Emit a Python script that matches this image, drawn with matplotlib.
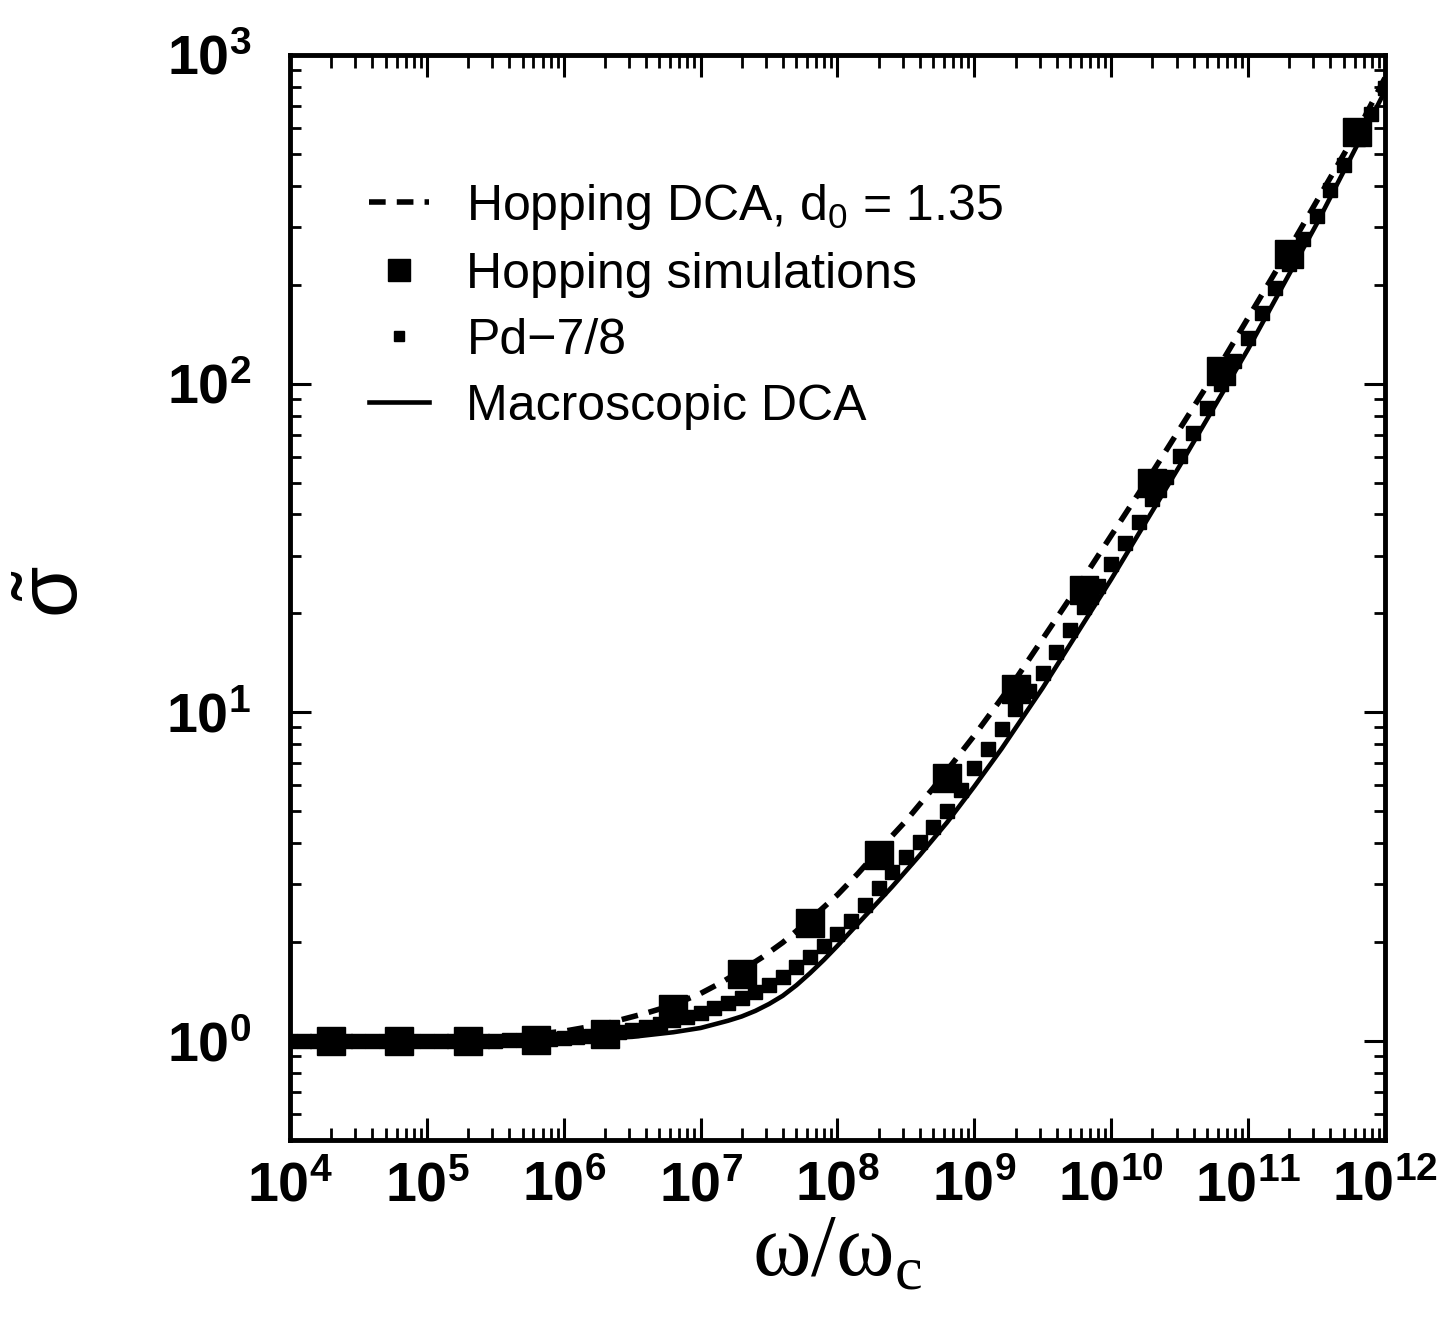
import numpy as np
import matplotlib
matplotlib.use('Agg')
import matplotlib.pyplot as plt
from matplotlib.lines import Line2D
from matplotlib.legend_handler import HandlerLine2D
from matplotlib.ticker import LogLocator, NullFormatter, FuncFormatter

plt.rcParams['font.family'] = ['Liberation Sans', 'DejaVu Sans']
plt.rcParams['mathtext.fontset'] = 'custom'
plt.rcParams['mathtext.rm'] = 'Liberation Sans'
plt.rcParams['mathtext.it'] = 'Liberation Sans:italic'
plt.rcParams['mathtext.bf'] = 'Liberation Sans:bold'

# Hopping simulations (big squares)
sim_w = [2e4, 6.3e4, 2e5, 6.3e5, 2e6, 6.3e6, 2e7, 6.3e7, 2e8, 6.3e8,
         2e9, 6.3e9, 2e10, 6.3e10, 2e11, 6.3e11]
sim_sig = [1.0, 1.0, 1.0, 1.01, 1.05, 1.25, 1.6, 2.29, 3.67, 6.31,
           11.8, 23.5, 49.7, 109, 248, 583]

# Hopping DCA, d0 = 1.35 (dashed), log10 values
dca_logw = [4.0, 5.0, 5.5, 6.0, 6.3, 6.6, 6.8, 7.0, 7.15, 7.3, 7.45, 7.6, 7.8,
            8.0, 8.15, 8.3, 8.5, 8.7, 9.0, 9.3, 9.8, 10.3, 10.8, 11.3, 11.8, 12.0]
dca_logsig = [0.0, 0.002, 0.008, 0.03, 0.052, 0.085, 0.11, 0.145, 0.178, 0.215,
              0.255, 0.30, 0.37, 0.445, 0.51, 0.58, 0.67, 0.77, 0.93, 1.10,
              1.41, 1.73, 2.06, 2.41, 2.77, 2.93]

# Macroscopic DCA (solid), log10 values
mac_logw = [4.0, 5.5, 6.0, 6.5, 6.8, 7.0, 7.2, 7.3, 7.4, 7.5, 7.6, 7.7, 7.8, 7.9,
            8.0, 8.2, 8.4, 8.6, 8.8, 9.0, 9.2, 9.5, 10.0, 10.5, 11.0, 11.5, 12.0]
mac_logsig = [0.0, 0.0, 0.003, 0.013, 0.027, 0.04, 0.062, 0.075, 0.092, 0.113,
              0.138, 0.17, 0.207, 0.247, 0.29, 0.38, 0.47, 0.565, 0.665, 0.775,
              0.89, 1.075, 1.405, 1.75, 2.105, 2.485, 2.89]

# Pd-7/8 (small squares), log10 values
pd_logw = [4.0, 4.1, 4.2, 4.3, 4.4, 4.5, 4.6, 4.7, 4.8, 4.9,
           5.0, 5.1, 5.2, 5.3, 5.4, 5.5, 5.6, 5.7, 5.8, 5.9,
           6.0, 6.1, 6.2, 6.3, 6.4, 6.5, 6.6, 6.7, 6.8, 6.9,
           7.0, 7.1, 7.2, 7.3, 7.4, 7.5, 7.6, 7.7, 7.8, 7.9,
           8.0, 8.1, 8.2, 8.3, 8.4, 8.5, 8.6, 8.7, 8.8, 8.9,
           9.0, 9.1, 9.2, 9.3, 9.4, 9.5, 9.6, 9.7, 9.8, 9.9,
           10.0, 10.1, 10.2, 10.3, 10.4, 10.5, 10.6, 10.7, 10.8, 10.9,
           11.0, 11.1, 11.2, 11.3, 11.4, 11.5, 11.6, 11.7, 11.8, 11.9, 12.0]
pd_logsig = [0.0, 0.0, 0.0, 0.0, 0.0, 0.0, 0.0, 0.0, 0.0, 0.0,
             0.0, 0.0, 0.0, 0.0, 0.0, 0.0, 0.002, 0.003, 0.005, 0.007,
             0.01, 0.013, 0.017, 0.022, 0.028, 0.035, 0.043, 0.053, 0.063, 0.074,
             0.085, 0.10, 0.115, 0.13, 0.15, 0.17, 0.195, 0.225, 0.255, 0.29,
             0.325, 0.365, 0.415, 0.465, 0.515, 0.56, 0.605, 0.65, 0.70, 0.765,
             0.83, 0.89, 0.95, 1.01, 1.065, 1.12, 1.185, 1.25, 1.32, 1.385,
             1.45, 1.515, 1.58, 1.65, 1.715, 1.78, 1.85, 1.925, 2.0, 2.07,
             2.14, 2.215, 2.29, 2.365, 2.44, 2.51, 2.59, 2.665, 2.745, 2.82, 2.90]

labels = ['Hopping DCA, d$_\\mathregular{0}$ = 1.35', 'Hopping simulations',
          'Pd\u22127/8', 'Macroscopic DCA']


class MarkerAtEnd(HandlerLine2D):
    # put the legend marker near the text, like the original figure
    def get_xdata(self, legend, xdescent, ydescent, width, height, fontsize):
        xdata, _ = super().get_xdata(legend, xdescent, ydescent, width, height, fontsize)
        return xdata, [-xdescent + 0.95 * width]


def pow_label(v, pos):
    e = int(round(np.log10(v)))
    return r'$\mathbf{10^{%d}}$' % e


fig = plt.figure(figsize=(14.38, 13.18), dpi=100)
ax = fig.add_axes([0.2017, 0.135, 0.7614, 0.8233])

dash = (0, (3, 2))
ax.plot(10 ** np.array(mac_logw), 10 ** np.array(mac_logsig), color='black', lw=3.3)
ax.plot(10 ** np.array(pd_logw), 10 ** np.array(pd_logsig), ls='none', marker='s',
        ms=9.5, color='black')
ax.plot(10 ** np.array(dca_logw), 10 ** np.array(dca_logsig), color='black', lw=4,
        ls=dash)
ax.plot(sim_w, sim_sig, ls='none', marker='s', ms=19.5, color='black')

ax.set_xscale('log')
ax.set_yscale('log')
ax.set_xlim(1e4, 1e12)
ax.set_ylim(0.5, 1000)

ax.xaxis.set_major_locator(LogLocator(base=10, numticks=20))
ax.xaxis.set_minor_locator(LogLocator(base=10, subs=np.arange(2, 10), numticks=20))
ax.yaxis.set_minor_locator(LogLocator(base=10, subs=np.arange(2, 10), numticks=20))
ax.xaxis.set_major_formatter(FuncFormatter(pow_label))
ax.yaxis.set_major_formatter(FuncFormatter(pow_label))
ax.xaxis.set_minor_formatter(NullFormatter())
ax.yaxis.set_minor_formatter(NullFormatter())

ax.tick_params(which='both', direction='in', top=True, right=True, labelsize=40)
ax.tick_params(axis='x', which='major', length=16, width=2.2, pad=15)
ax.tick_params(axis='x', which='minor', length=9, width=2.0)
ax.tick_params(axis='y', which='major', length=15, width=2.2, pad=28)
ax.tick_params(axis='y', which='minor', length=8, width=2.0)
for s in ax.spines.values():
    s.set_linewidth(3.5)

ax.set_xlabel('\u03c9/\u03c9$_\\mathregular{c}$', fontsize=64,
              family=['Liberation Serif', 'DejaVu Serif'])
ax.xaxis.set_label_coords(0.5, -0.068)
ax.set_ylabel('$\\tilde{\\mathrm{\\sigma}}$', fontsize=60)
ax.yaxis.set_label_coords(-0.178, 0.505)

handles = [Line2D([], [], color='black', lw=4, ls=dash),
           Line2D([], [], ls='none', marker='s', ms=16, color='black'),
           Line2D([], [], ls='none', marker='s', ms=6.5, color='black'),
           Line2D([], [], color='black', lw=3.3)]
ax.legend(handles, labels, loc='upper left', bbox_to_anchor=(0.072, 0.883),
          frameon=False, fontsize=36, handlelength=1.2, handletextpad=0.75,
          labelspacing=0.4, borderpad=0, borderaxespad=0,
          handler_map={Line2D: MarkerAtEnd(numpoints=1)})

fig.savefig('out.png', dpi=100)
